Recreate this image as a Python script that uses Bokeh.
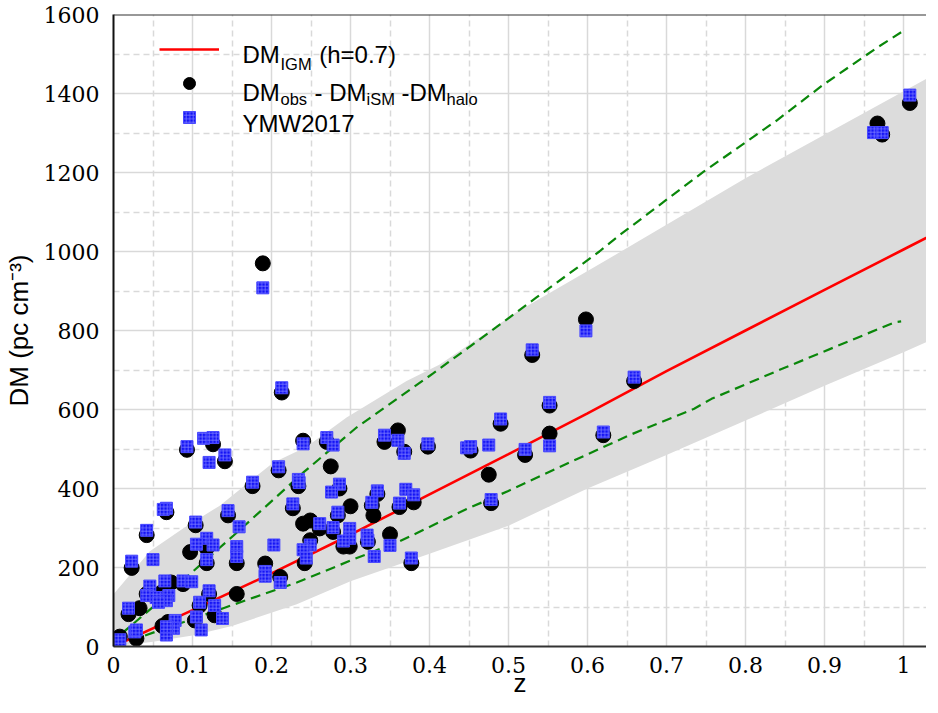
from bokeh.plotting import figure
from bokeh.models import (FixedTicker, CustomJSTickFormatter, Legend, LegendItem,
                          Label, Span)
from bokeh.embed import file_html
from bokeh.resources import INLINE

# ---------------- data ----------------
# DM_obs - DM_ISM - DM_halo (black circles)
z_obs = [0.000, 0.008, 0.029, 0.019, 0.033, 0.023, 0.042, 0.067, 0.093, 0.126,
         0.141, 0.104, 0.145, 0.176, 0.213, 0.209, 0.240, 0.270, 0.275, 0.234,
         0.286, 0.300, 0.334, 0.327, 0.329, 0.343, 0.360, 0.368, 0.398, 0.362,
         0.380, 0.227, 0.261, 0.278, 0.284, 0.240, 0.249, 0.291, 0.299, 0.322,
         0.350, 0.377, 0.249, 0.242, 0.192, 0.211, 0.156, 0.156, 0.097, 0.118,
         0.118, 0.073, 0.088, 0.121, 0.042, 0.061, 0.069, 0.062, 0.103, 0.109,
         0.128, 0.189, 0.598, 0.530, 0.659, 0.552, 0.490, 0.552, 0.620, 0.521,
         0.452, 0.475, 0.478, 0.967, 0.973, 1.008]
dm_obs = [5, 25, 20, 82, 97, 199, 282, 340, 498, 512,
          469, 307, 332, 406, 643, 446, 521, 518, 456, 406,
          400, 355, 386, 357, 332, 518, 547, 493, 506, 353,
          365, 350, 299, 290, 332, 311, 319, 253, 253, 265,
          284, 211, 269, 211, 210, 176, 133, 211, 239, 249,
          211, 162, 158, 133, 133, 137, 62, 52, 66, 104,
          79, 970, 828, 738, 672, 610, 564, 539, 535, 485,
          496, 435, 363, 1324, 1296, 1376]

# YMW2017 (blue squares)
z_ymw = [0.000, 0.008, 0.027, 0.029, 0.019, 0.023, 0.042, 0.050, 0.067, 0.063,
         0.093, 0.114, 0.126, 0.121, 0.141, 0.104, 0.145, 0.159, 0.176, 0.213,
         0.209, 0.240, 0.270, 0.278, 0.234, 0.235, 0.286, 0.276, 0.334, 0.327,
         0.343, 0.360, 0.368, 0.398, 0.447, 0.362, 0.370, 0.380, 0.227, 0.261,
         0.278, 0.284, 0.299, 0.299, 0.291, 0.321, 0.322, 0.350, 0.330, 0.377,
         0.203, 0.249, 0.240, 0.244, 0.192, 0.192, 0.211, 0.156, 0.156, 0.118,
         0.105, 0.126, 0.118, 0.088, 0.099, 0.121, 0.065, 0.046, 0.042, 0.054,
         0.070, 0.067, 0.057, 0.078, 0.076, 0.067, 0.067, 0.105, 0.111, 0.109,
         0.128, 0.138, 0.189, 0.598, 0.530, 0.659, 0.552, 0.490, 0.552, 0.620,
         0.521, 0.475, 0.452, 0.478, 0.962, 0.973, 1.008]
dm_ymw = [15, 17, 37, 42, 97, 216, 294, 220, 350, 347,
          506, 527, 529, 466, 485, 315, 344, 303, 416, 655,
          455, 513, 529, 510, 423, 415, 411, 391, 394, 365,
          535, 522, 489, 513, 503, 363, 398, 384, 361, 311,
          301, 340, 299, 274, 267, 282, 269, 256, 228, 224,
          257, 257, 245, 224, 190, 178, 162, 253, 228, 274,
          259, 257, 220, 166, 164, 141, 166, 153, 129, 124,
          129, 116, 112, 66, 46, 29, 50, 75, 42, 112,
          104, 71, 908, 799, 751, 682, 618, 576, 508, 543,
          499, 510, 506, 372, 1301, 1301, 1396]

# DM_IGM (h=0.7) model curve
z_igm = [0.0, 0.1, 0.2, 0.3, 0.4, 0.5, 0.6, 0.7, 0.8, 0.9, 1.0, 1.05]
dm_igm = [0, 92, 185, 283, 385, 487, 590, 697, 800, 903, 1005, 1056]

# grey band (upper / lower edges)
z_band_up = [0.0, 0.046, 0.088, 0.134, 0.202, 0.244, 0.295, 0.371, 0.413, 0.51,
             0.611, 0.801, 1.039]
dm_band_up = [132, 241, 299, 356, 465, 505, 580, 672, 714, 846,
              963, 1187, 1448]
z_band_lo = [0.0, 0.05, 0.1, 0.15, 0.232, 0.3, 0.4, 0.5, 0.6, 0.7, 0.8, 0.9,
             1.0, 1.039]
dm_band_lo = [0, 12, 28, 52, 107, 165, 235, 306, 400, 485, 572, 660, 745, 780]

# green dashed curves
z_green_up = [0.01, 0.054, 0.096, 0.152, 0.24, 0.308, 0.405, 0.485, 0.535,
              0.615, 0.643, 0.747, 0.839, 0.899, 0.968, 0.997]
dm_green_up = [32, 107, 182, 281, 440, 555, 692, 809, 883,
               1000, 1045, 1202, 1331, 1423, 1518, 1555]
z_green_lo = [0.04, 0.089, 0.139, 0.232, 0.308, 0.362, 0.447, 0.499, 0.571,
              0.653, 0.735, 0.757, 0.844, 0.989, 0.997]
dm_green_lo = [28, 62, 97, 162, 224, 266, 348, 393, 460,
               535, 602, 627, 701, 821, 823]

# ticks
x_ticks = [0, 0.1, 0.2, 0.3, 0.4, 0.5, 0.6, 0.7, 0.8, 0.9, 1.0]
x_minor_ticks = [0.05, 0.15, 0.25, 0.35, 0.45, 0.55, 0.65, 0.75, 0.85, 0.95]
y_ticks = [0, 200, 400, 600, 800, 1000, 1200, 1400, 1600]
y_minor_ticks = [100, 300, 500, 700, 900, 1100, 1300, 1500]

# ---------------- figure ----------------
FRAME_H = 632
p = figure(frame_width=813, frame_height=FRAME_H,
           min_border_left=109, min_border_right=0, min_border_top=14,
           min_border_bottom=51,
           x_range=(0, 1.0291), y_range=(0, 1600),
           output_backend="svg", toolbar_location=None)
p.outline_line_color = None
p.background_fill_color = "white"
p.border_fill_color = "white"

GRID = "#d9d9d9"
for g in (p.xgrid, p.ygrid):
    g.grid_line_color = GRID
    g.grid_line_width = 1.5
    g.minor_grid_line_color = GRID
    g.minor_grid_line_width = 1.5
    g.minor_grid_line_dash = "6 4"

p.xaxis.ticker = FixedTicker(ticks=x_ticks, minor_ticks=x_minor_ticks)
p.yaxis.ticker = FixedTicker(ticks=y_ticks, minor_ticks=y_minor_ticks)
p.xaxis.formatter = CustomJSTickFormatter(code="return String(Number(tick.toFixed(2)));")

SERIF = "DejaVu Serif"
for ax in (p.xaxis, p.yaxis):
    ax.major_tick_line_color = None
    ax.minor_tick_line_color = None
    ax.major_label_text_font = SERIF
    ax.major_label_text_font_size = "22px"
    ax.major_label_text_color = "black"
    ax.axis_line_width = 2
p.xaxis.axis_line_color = "#333333"
p.yaxis.axis_line_color = "#111111"
p.xaxis.major_label_standoff = 4
p.yaxis.major_label_standoff = 8

p.yaxis.axis_label = "DM (pc cm\u207b\u00b3)"
p.xaxis.axis_label = "z"
for ax in (p.xaxis, p.yaxis):
    ax.axis_label_text_font = "Liberation Sans"
    ax.axis_label_text_font_size = "26px"
    ax.axis_label_text_font_style = "normal"
    ax.axis_label_text_color = "black"
p.yaxis.axis_label_standoff = 7
p.xaxis.axis_label_standoff = -8

# top border line
p.add_layout(Span(location=1600, dimension="width", line_color="#333333", line_width=2))

# band
band_x = z_band_up + z_band_lo[::-1]
band_y = dm_band_up + dm_band_lo[::-1]
p.patch(band_x, band_y, fill_color="#dcdcdc", line_color=None)

# green dashed
p.line(z_green_up, dm_green_up, line_color="#0a870a", line_width=2.2, line_dash="10 6")
p.line(z_green_lo, dm_green_lo, line_color="#0a870a", line_width=2.2, line_dash="10 6")

# red model
r_red = p.line(z_igm, dm_igm, line_color="#ff0000", line_width=2.6)

# points
r_circ = p.scatter(z_obs, dm_obs, marker="circle", size=15,
                   fill_color="black", line_color="black")
r_sq = p.scatter(z_ymw, dm_ymw, marker="square", size=12,
                 fill_color="#1414f5", line_color="#4a4aff", line_width=1,
                 hatch_pattern="+", hatch_color="#7a7aff", hatch_scale=3.5,
                 hatch_weight=0.8)

# legend symbols
LEG_H = 3 * 30 + 2 * 4
legend = Legend(items=[LegendItem(label=" ", renderers=[r_red]),
                       LegendItem(label=" ", renderers=[r_circ]),
                       LegendItem(label=" ", renderers=[r_sq])],
                location=(46, FRAME_H - 20 - LEG_H), orientation="vertical",
                padding=0, margin=0, spacing=4,
                glyph_width=60, glyph_height=30,
                label_width=0, label_height=30, label_standoff=0,
                label_text_font_size="1px",
                background_fill_alpha=0, border_line_alpha=0)
p.add_layout(legend)

# legend texts (with subscripts); offsets are pixels below the frame top
PX = 1600 / FRAME_H
MAIN = "24px"
SUB = "16.5px"
def txt(x, off, s, size):
    p.add_layout(Label(x=x, y=1600 - off * PX, text=s, text_font="Liberation Sans",
                       text_font_size=size, text_color="black",
                       text_baseline="alphabetic", text_align="left"))

txt(0.1633, 40, "DM", MAIN)
txt(0.2114, 49.7, "IGM", SUB)
txt(0.2604, 40, "(h=0.7)", MAIN)

txt(0.1633, 78, "DM", MAIN)
txt(0.2114, 84.5, "obs", SUB)
txt(0.2544, 78, "- DM", MAIN)
txt(0.3203, 84.5, "iSM", SUB)
txt(0.3646, 78, "-DM", MAIN)
txt(0.4215, 84.5, "halo", SUB)

txt(0.1633, 109, "YMW2017", MAIN)

open("out.html", "w").write(file_html(p, INLINE))
